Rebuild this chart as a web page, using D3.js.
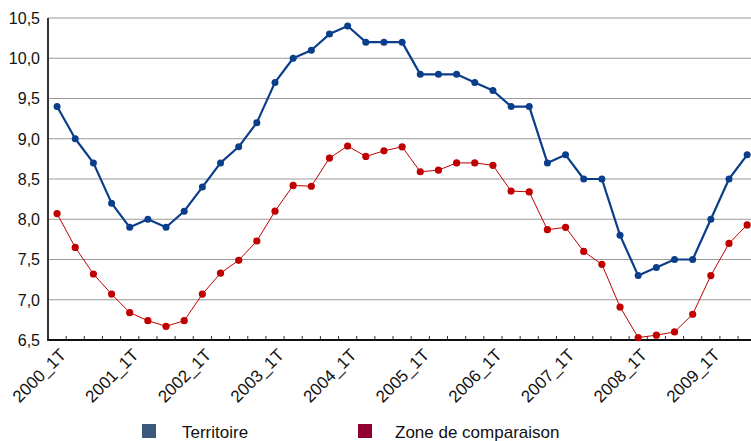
<!DOCTYPE html>
<html>
<head>
<meta charset="utf-8">
<script src="https://cdn.jsdelivr.net/npm/d3@7"></script>
<style>
body{margin:0;background:#fff;}
svg{display:block;font-family:"Liberation Sans",Arial,sans-serif;}
</style>
</head>
<body>
<svg id="drawarea"></svg>
<script>
// trimestres 2000_1T .. 2009_3T
var categories = [];
[2000,2001,2002,2003,2004,2005,2006,2007,2008,2009].forEach(function(y){
    [1,2,3,4].forEach(function(q){
        if(y==2009 && q==4) return;
        categories.push(y + "_" + q + "T");
    });
});

var territoire = [9.4,9.0,8.7,8.2,7.9,8.0,7.9,8.1,8.4,8.7,8.9,9.2,9.7,10.0,10.1,10.3,10.4,10.2,10.2,10.2,
    9.8,9.8,9.8,9.7,9.6,9.4,9.4,8.7,8.8,8.5,8.5,7.8,7.3,7.4,7.5,7.5,8.0,8.5,8.8];

var zone = [8.07,7.65,7.32,7.07,6.84,6.74,6.67,6.74,7.07,7.33,7.49,7.73,8.10,8.42,8.41,8.76,8.91,8.78,8.85,8.90,
    8.59,8.61,8.70,8.70,8.67,8.35,8.34,7.87,7.90,7.60,7.44,6.91,6.53,6.56,6.60,6.82,7.30,7.70,7.93];

var yTicks = [6.5,7.0,7.5,8.0,8.5,9.0,9.5,10.0,10.5];
var xLabels = categories.filter(function(d){ return /_1T$/.test(d); });

var legendItems = ["Territoire","Zone de comparaison"];

var W = 751, H = 441;
var plotLeft = 48, plotTop = 18, plotBottom = 340;
var step = 18.16;

var svg = d3.select("#drawarea").attr("width", W).attr("height", H);

var x = d3.scaleBand().domain(categories).range([plotLeft, plotLeft + step*categories.length]).padding(0);
var y = d3.scaleLinear().domain([6.5,10.5]).range([plotBottom, plotTop]);
function cx(d){ return x(d) + x.bandwidth()/2; }

var fmt = function(v){ return d3.format(".1f")(v).replace(".", ","); };

// grille
svg.append("g").selectAll("line").data(yTicks.slice(1)).enter().append("line")
    .attr("x1", plotLeft).attr("x2", W)
    .attr("y1", function(d){ return y(d); }).attr("y2", function(d){ return y(d); })
    .attr("stroke", "#999").attr("stroke-width", 1);

// labels Y
svg.append("g").selectAll("text").data(yTicks).enter().append("text")
    .attr("x", 40).attr("y", function(d){ return y(d); })
    .attr("dy", "0.36em")
    .attr("text-anchor", "end")
    .attr("font-size", 16).attr("fill", "#111")
    .text(fmt);

// ticks X (entre categories)
var tickPos = categories.map(function(d){ return x(d); }).concat([x.range()[1]]);
svg.append("g").selectAll("line").data(tickPos.slice(1)).enter().append("line")
    .attr("x1", function(d){ return d; }).attr("x2", function(d){ return d; })
    .attr("y1", plotBottom - 4).attr("y2", plotBottom)
    .attr("stroke", "#333").attr("stroke-width", 1);

// axes
svg.append("line").attr("x1", plotLeft).attr("x2", plotLeft).attr("y1", plotTop).attr("y2", plotBottom+1)
    .attr("stroke", "#333").attr("stroke-width", 2);
svg.append("line").attr("x1", plotLeft).attr("x2", W).attr("y1", plotBottom).attr("y2", plotBottom)
    .attr("stroke", "#111").attr("stroke-width", 2);

// labels X
svg.append("g").selectAll("text").data(xLabels).enter().append("text")
    .attr("transform", function(d){ return "translate(" + (cx(d) + 10) + "," + 356 + ") rotate(-45)"; })
    .attr("text-anchor", "end")
    .attr("font-size", 17).attr("fill", "#111")
    .text(function(d){ return d; });

// series
var line = d3.line()
    .x(function(d,i){ return cx(categories[i]); })
    .y(function(d){ return y(d); });

function drawSeries(values, color, width, r){
    var g = svg.append("g");
    g.append("path").datum(values)
        .attr("d", line)
        .attr("fill", "none")
        .attr("stroke", color)
        .attr("stroke-width", width)
        .attr("stroke-linejoin", "round");
    g.selectAll("circle").data(values).enter().append("circle")
        .attr("cx", function(d,i){ return cx(categories[i]); })
        .attr("cy", function(d){ return y(d); })
        .attr("r", r)
        .attr("fill", color);
}
drawSeries(zone, "#c00000", 1, 3.6);
drawSeries(territoire, "#0a3d8a", 2.2, 3.5);

// legende
var legendColors = ["#3b5a7b", "#900030"];
var legendX = [142, 358];
var lg = svg.append("g").selectAll("g").data(legendItems).enter().append("g")
    .attr("transform", function(d,i){ return "translate(" + legendX[i] + ",424)"; });
lg.append("rect").attr("width", 14).attr("height", 14)
    .attr("fill", function(d,i){ return legendColors[i]; });
lg.append("text").attr("x", function(d,i){ return i==0 ? 40 : 37; }).attr("y", 14)
    .attr("font-size", 17).attr("fill", "#111")
    .text(function(d){ return d; });
</script>
</body>
</html>
